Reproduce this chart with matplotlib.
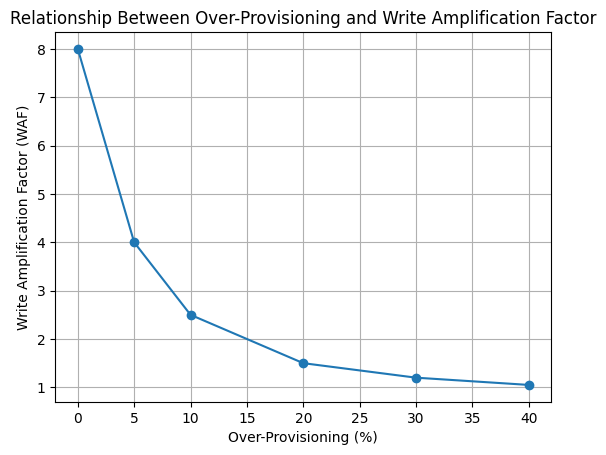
import matplotlib
matplotlib.use("Agg")
import matplotlib.pyplot as plt

over_provisioning = [0, 5, 10, 20, 30, 40]
waf = [8, 4, 2.5, 1.5, 1.2, 1.05]

fig, ax = plt.subplots(figsize=(6.4, 4.8), dpi=100)
ax.plot(over_provisioning, waf, marker='o')
ax.set_title('Relationship Between Over-Provisioning and Write Amplification Factor')
ax.set_xlabel('Over-Provisioning (%)')
ax.set_ylabel('Write Amplification Factor (WAF)')
ax.grid(True)
fig.savefig('out.png', dpi=100, bbox_inches='tight')
